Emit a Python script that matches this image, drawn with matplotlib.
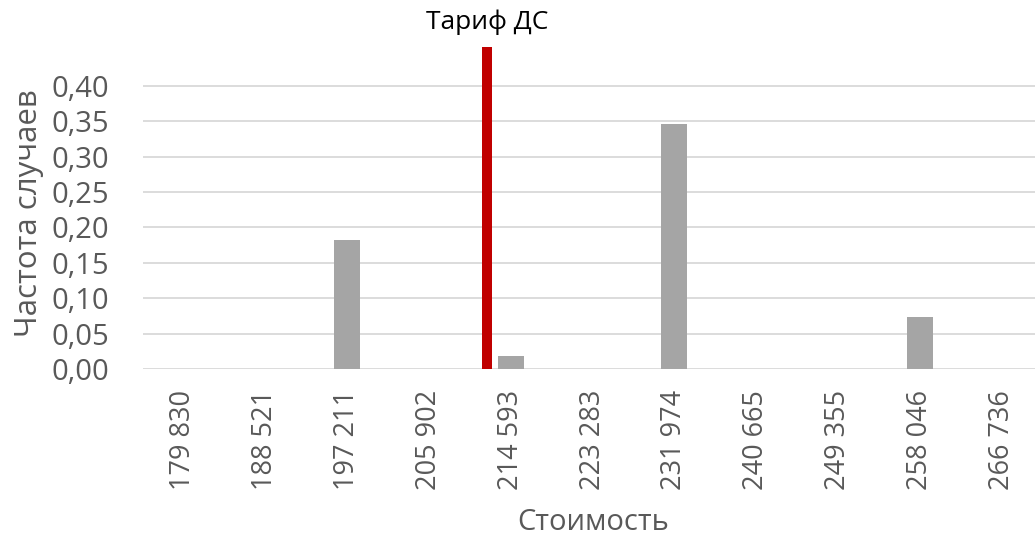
import matplotlib.pyplot as plt
import matplotlib.transforms as mtransforms
import numpy as np

plt.rcParams['font.family'] = ['Open Sans', 'DejaVu Sans']

# histogram bins (cost) and frequencies
bins = [179830, 188521, 197211, 205902, 214593, 223283, 231974,
        240665, 249355, 258046, 266736]
freq = [0.0, 0.0, 0.182, 0.0, 0.018, 0.0, 0.346, 0.0, 0.0, 0.074, 0.0]
tariff = 212050
tariff_label = 'Тариф ДС'

text_col = '#595959'
bar_col = '#A5A5A5'
red = '#C00000'

fig = plt.figure(figsize=(10.35, 5.43), dpi=100)
ax = fig.add_axes([142.5 / 1035, 174 / 543, 900 / 1035, 322 / 543])

x = np.arange(len(bins))
ax.bar(x, freq, width=0.32, color=bar_col, zorder=3)

# tariff marker placed between bins
tx = np.interp(tariff, bins, x)
ax.bar([tx], [0.455], width=0.12, color=red, zorder=4)
trans = mtransforms.blended_transform_factory(ax.transData, fig.transFigure)
ax.text(tx, 1 - 22 / 543, tariff_label, transform=trans, ha='center', va='center',
        fontsize=19, color='black')

ax.set_xlim(-0.5, len(bins) - 0.5)
ax.set_ylim(0, 0.455)
yt = np.arange(0, 0.41, 0.05)
ax.set_yticks(yt)
ax.set_yticklabels([f'{v:.2f}'.replace('.', ',') for v in yt])
ax.set_xticks(x)
ax.set_xticklabels([f'{b:,}'.replace(',', ' ') for b in bins], rotation=90)

ax.yaxis.grid(True, color='#D9D9D9', linewidth=1.3, zorder=0)
ax.set_axisbelow(True)
for s in ax.spines.values():
    s.set_visible(False)
ax.tick_params(axis='y', length=0, labelsize=21, colors=text_col, pad=24)
ax.tick_params(axis='x', length=0, labelsize=19.5, colors=text_col, pad=15)

fig.text(29 / 1035, 1 - 213 / 543, 'Частота случаев', rotation=90,
         ha='center', va='center', fontsize=22.5, color=text_col)
fig.text(593 / 1035, 1 - 522 / 543, 'Стоимость', ha='center', va='center',
         fontsize=21, color=text_col)

fig.savefig('out.png', dpi=100)
